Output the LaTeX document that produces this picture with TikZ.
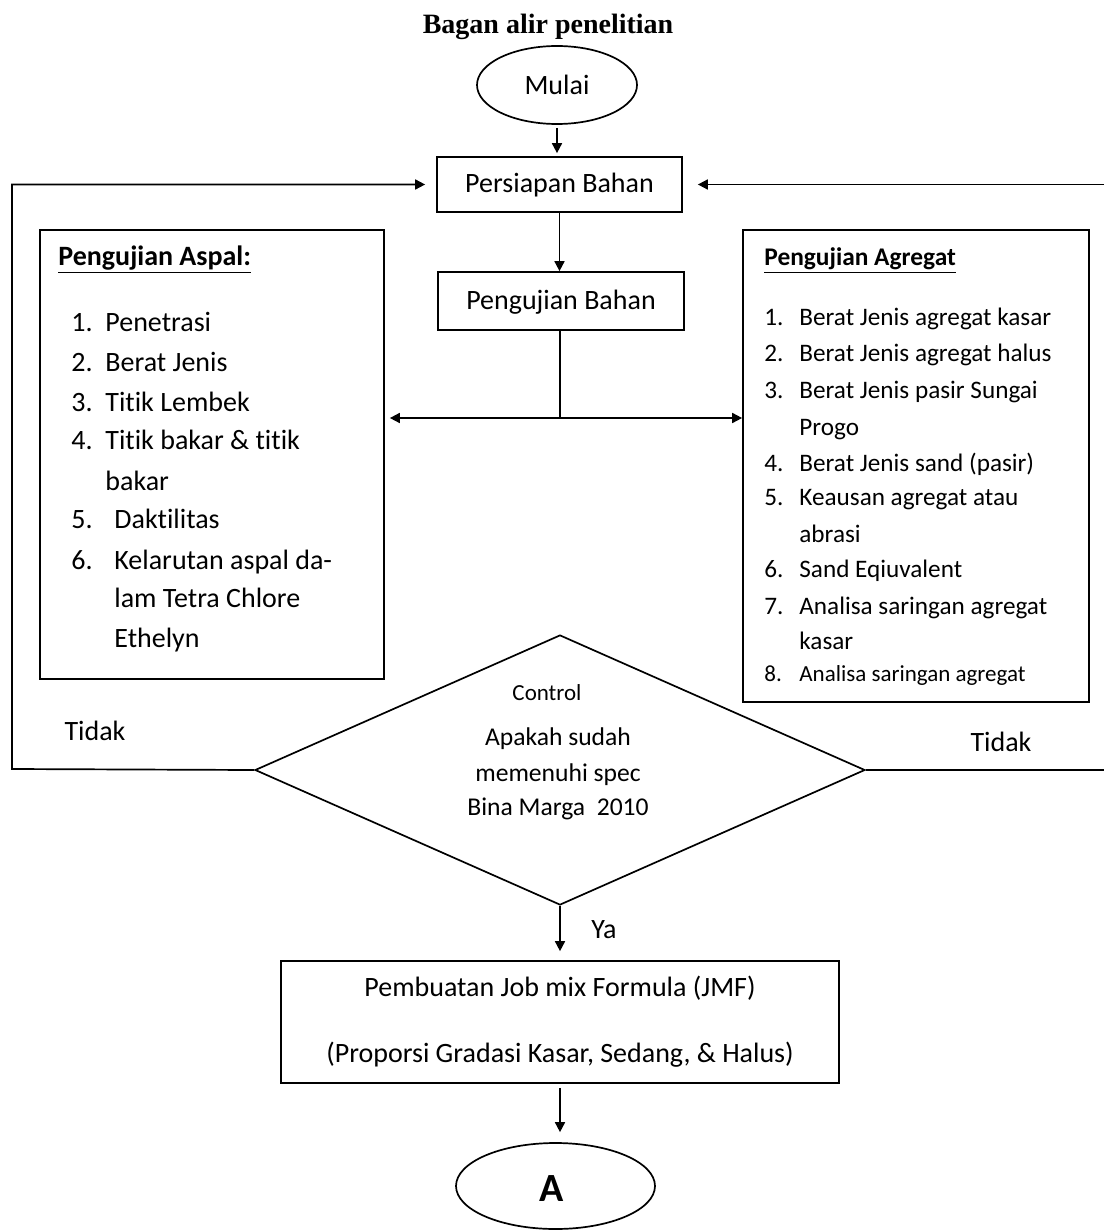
\documentclass[tikz,border=0pt]{standalone}
\usepackage{fontspec}
\setmainfont{Carlito}[Ligatures=NoCommon]
\newfontfamily\titlefont{Liberation Serif}
\usetikzlibrary{shapes.geometric,arrows.meta,calc}
\begin{document}
\begin{tikzpicture}[x=0.5pt,y=-0.5pt,
  every node/.style={inner sep=0pt},
  ln/.style={line width=0.85pt},
  arr/.style={ln,-{Triangle[length=5pt,width=5pt]}},
  box/.style={draw,line width=0.85pt,rectangle,align=center,font=\fontsize{14}{17}\selectfont},
  oval/.style={draw,line width=0.85pt,ellipse},
  bigt/.style={anchor=west,text height=0.8em,text depth=0pt,font=\fontsize{14}{17}\selectfont},
  smt/.style={anchor=west,text height=0.8em,text depth=0pt,font=\fontsize{12.6}{15}\selectfont},
  ctxt/.style={text height=0.8em,text depth=0pt,font=\fontsize{12.8}{15}\selectfont}
]
\useasboundingbox (0,0) rectangle (1104,1230);

% title
\node[font=\titlefont\bfseries\fontsize{14}{17}\selectfont,text height=0.8em,text depth=0pt] (title) at (548,26) {Bagan alir penelitian};

% main nodes
\node[oval,minimum width=80pt,minimum height=39pt,font=\fontsize{14}{17}\selectfont] (mulai) at (557,85) {Mulai};
\node[box,minimum width=122.5pt,minimum height=27.5pt,text height=0.8em,text depth=0pt] (persiapan) at (559.5,184.5) {Persiapan Bahan};
\node[box,minimum width=123pt,minimum height=29pt,text height=0.8em,text depth=0pt] (pengujian) at (561,301) {Pengujian Bahan};
\node[draw,line width=0.85pt,minimum width=172pt,minimum height=224.5pt] (aspal) at (212,454.5) {};
\node[draw,line width=0.85pt,minimum width=173pt,minimum height=236pt] (agregat) at (916,466) {};
\node[draw,line width=0.85pt,diamond,minimum width=305pt,minimum height=135pt] (dia) at (560,770) {};
\node[box,minimum width=279pt,minimum height=61pt] (jmf) at (560,1022) {};
\node[oval,minimum width=99.5pt,minimum height=43pt] (A) at (555.5,1186) {};

% texts in JMF box
\node[ctxt,font=\fontsize{14}{17}\selectfont] (jmf1) at (560,988) {Pembuatan Job mix Formula (JMF)};
\node[ctxt,font=\fontsize{14}{17}\selectfont] (jmf2) at (560,1054) {(Proporsi Gradasi Kasar, Sedang, \& Halus)};
\node[font=\bfseries\fontsize{20}{24}\selectfont,text height=0.7em,text depth=0pt] (Atxt) at (552,1194) {A};

% left list
\node[bigt,font=\bfseries\fontsize{14}{17}\selectfont] (a0) at (58,257) {\underline{Pengujian Aspal:}};
\node[bigt] (a1) at (71,323) {\makebox[17pt][l]{1.}Penetrasi};
\node[bigt] (a2) at (71,363) {\makebox[17pt][l]{2.}Berat Jenis};
\node[bigt] (a3) at (71,403) {\makebox[17pt][l]{3.}Titik Lembek};
\node[bigt] (a4) at (71,441) {\makebox[17pt][l]{4.}Titik bakar \& titik};
\node[bigt] (a4b) at (105,482) {bakar};
\node[bigt] (a5) at (71,520) {\makebox[21.5pt][l]{5.}Daktilitas};
\node[bigt] (a6) at (71,561) {\makebox[21.5pt][l]{6.}Kelarutan aspal da-};
\node[bigt] (a6b) at (114,599) {lam Tetra Chlore};
\node[bigt] (a6c) at (114,639) {Ethelyn};

% right list
\node[smt,font=\bfseries\fontsize{12.7}{15}\selectfont] (g0) at (764,257) {\underline{Pengujian Agregat}};
\node[smt] (g1) at (764,317) {\makebox[17.5pt][l]{1.}Berat Jenis agregat kasar};
\node[smt] (g2) at (764,353) {\makebox[17.5pt][l]{2.}Berat Jenis agregat halus};
\node[smt] (g3) at (764,390) {\makebox[17.5pt][l]{3.}Berat Jenis pasir Sungai};
\node[smt] (g3b) at (799,427) {Progo};
\node[smt] (g4) at (764,463) {\makebox[17.5pt][l]{4.}Berat Jenis sand (pasir)};
\node[smt] (g5) at (764,497) {\makebox[17.5pt][l]{5.}Keausan agregat atau};
\node[smt] (g5b) at (799,534) {abrasi};
\node[smt] (g6) at (764,569) {\makebox[17.5pt][l]{6.}Sand Eqiuvalent};
\node[smt] (g7) at (764,606) {\makebox[17.5pt][l]{7.}Analisa saringan agregat};
\node[smt] (g7b) at (799,641) {kasar};
\node[smt,font=\fontsize{11.5}{14}\selectfont] (g8) at (764,673) {\makebox[17.5pt][l]{8.}Analisa saringan agregat};

% diamond texts
\node[ctxt,font=\fontsize{11.5}{14}\selectfont] (c0) at (547,692) {Control};
\node[ctxt] (c1) at (558,737) {Apakah sudah};
\node[ctxt] (c2) at (558,773) {memenuhi spec};
\node[ctxt] (c3) at (558,807) {Bina Marga~ 2010};

% labels
\node[bigt,anchor=center] (tidakL) at (95,732) {Tidak};
\node[bigt,anchor=center] (tidakR) at (1001,743) {Tidak};
\node[bigt,anchor=center] (ya) at (604,930) {Ya};

% connectors
\coordinate (lc) at (12,769);
\coordinate (rb) at (1104,770);
\coordinate (rt) at (1104,184.5);
\coordinate (split) at (560,418);

\draw[arr,shorten <=1.5pt,shorten >=1.5pt] (mulai.south) -- (mulai.south |- persiapan.north);
\draw[arr] (persiapan.south) -- (persiapan.south |- pengujian.north);
\draw[ln] (pengujian.south -| split) -- (split);
\draw[arr,shorten >=2.5pt] (split) -- (split -| aspal.east);
\draw[arr] (split) -- (split -| agregat.west);
\draw[arr,shorten >=5.5pt] (dia.west) -- (lc) |- (persiapan.west);
\draw[ln] (dia.east) -- (rb);
\draw[arr,shorten >=7.5pt] (rt) -- (persiapan.east);
\draw[arr,shorten >=4.5pt] (dia.south) -- (jmf.north);
\draw[arr,shorten <=2pt,shorten >=5pt] (jmf.south) -- (jmf.south |- A.north);
\end{tikzpicture}
\end{document}
